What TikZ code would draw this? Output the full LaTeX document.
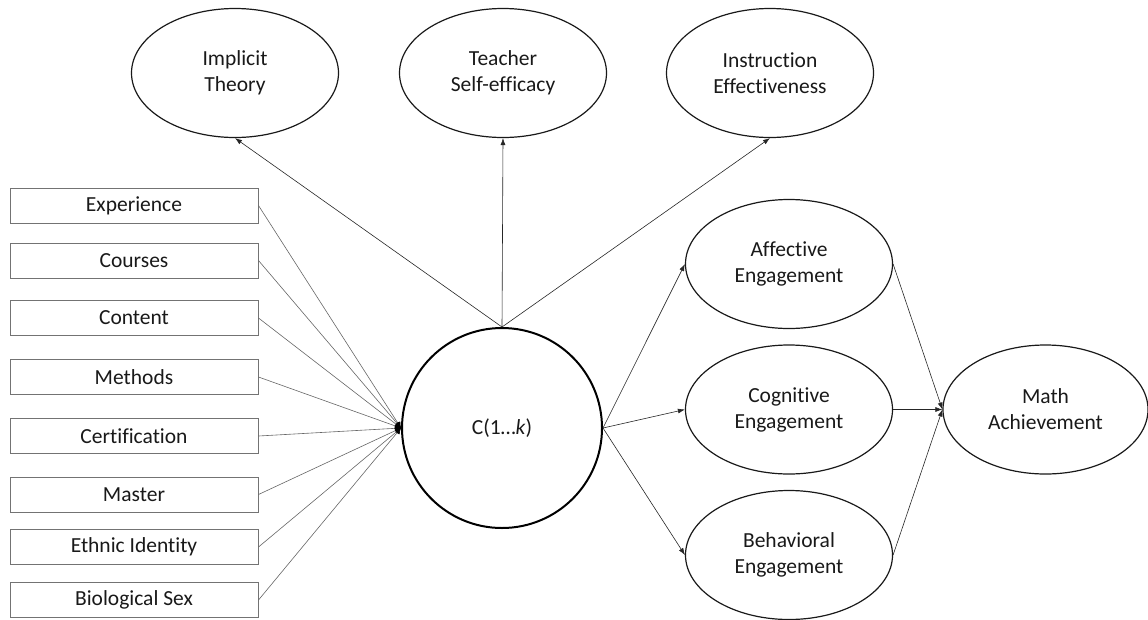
\documentclass[tikz,border=0pt]{standalone}
\usepackage{fontspec}
\setmainfont{Carlito}[Ligatures=NoCommon]
\usetikzlibrary{shapes.geometric,arrows.meta}
\begin{document}
\begin{tikzpicture}[x=1pt,y=-1pt,
  every node/.style={font=\fontsize{21.5}{26}\selectfont, text=black!90},
  latent/.style={ellipse, draw=black!90, line width=1.2pt, minimum width=207pt, minimum height=129pt, inner sep=0pt, align=center},
  obsbox/.style={rectangle, draw=black!55, line width=1pt, minimum width=248pt, minimum height=35pt, inner sep=0pt},
  path/.style={draw=black!85, line width=0.6pt, -{Latex[length=7pt,width=5pt]}},
  convtip/.style={draw=black!60, line width=0.6pt, -{Latex[length=6pt,width=6pt,fill=black,color=black]}}
]
\useasboundingbox (0,0) rectangle (1148,619);
% top latent
\node[latent] (it) at (235,73) {Implicit\\Theory};
\node[latent] (tse) at (503,73) {Teacher\\Self-efficacy};
\node[latent] (ie) at (770,73) {Instruction\\Effectiveness};
% central
\node[circle, draw=black, line width=2pt, minimum size=200pt, inner sep=0pt] (c) at (502,428) {C(1\dots\textit{k})};
% boxes
\node[obsbox] (b1) at (134,205.5) {Experience};
\node[obsbox] (b2) at (134,260.5) {Courses};
\node[obsbox] (b3) at (134,318) {Content};
\node[obsbox] (b4) at (134,377) {Methods};
\node[obsbox] (b5) at (134,436) {Certification};
\node[obsbox] (b6) at (134,494.5) {Master};
\node[obsbox] (b7) at (134,547) {Ethnic Identity};
\node[obsbox] (b8) at (134,600) {Biological Sex};
% right latent
\node[latent] (ae) at (789,264) {Affective\\Engagement};
\node[latent] (ce) at (789,409.5) {Cognitive\\Engagement};
\node[latent] (be) at (789,555) {Behavioral\\Engagement};
\node[latent, minimum width=205pt] (ma) at (1045.5,409.5) {Math\\Achievement};
% feeds into C
\foreach \b in {b1,b2,b3,b4,b5,b6,b7,b8}
  \draw[convtip] (\b.east) -- (c.west);
% C to top
\draw[path] (c.north) -- (it.south);
\draw[path] (c.north) -- (tse.south);
\draw[path] (c.north) -- (ie.south);
% C to engagement
\draw[path] (c.east) -- (ae.west);
\draw[path] (c.east) -- (ce.west);
\draw[path] (c.east) -- (be.west);
% engagement to math
\draw[path] (ae.east) -- (ma.west);
\draw[path] (ce.east) -- (ma.west);
\draw[path] (be.east) -- (ma.west);
\end{tikzpicture}
\end{document}
